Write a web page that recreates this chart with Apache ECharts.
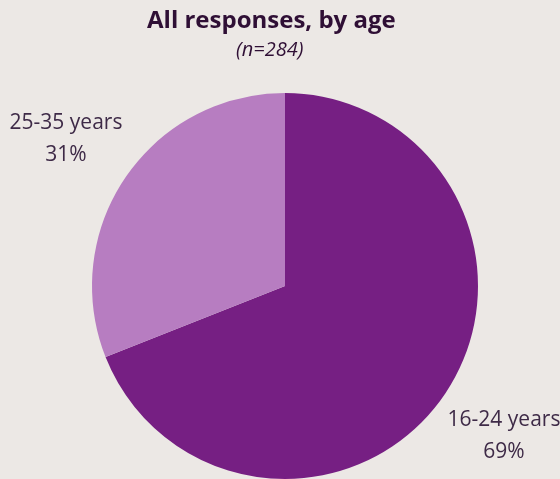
<!DOCTYPE html>
<html>
<head>
<meta charset="utf-8">
<script src="https://cdn.jsdelivr.net/npm/echarts@6/dist/echarts.min.js"></script>
<style>
  html, body { margin: 0; padding: 0; background: #ece8e5; }
  #chart { width: 560px; height: 479px; }
</style>
</head>
<body>
<div id="chart"></div>
<script>
// Age groups and their share of responses (percent)
const categories = ['16-24 years', '25-35 years'];
const shares = [69, 31];
const sliceColors = ['#761f83', '#b77dc1'];

const chart = echarts.init(document.getElementById('chart'), null, { renderer: 'canvas' });

const labelSpots = [
  { x: 504, y: 436 },
  { x: 66, y: 139 }
];

chart.setOption({
  backgroundColor: '#ece8e5',
  animation: false,
  title: [{
    text: 'All responses, by age',
    left: 147,
    top: 9,
    padding: 0,
    textStyle: {
      fontFamily: 'Open Sans',
      fontWeight: 'bold',
      fontSize: 24,
      color: '#2f0f35'
    }
  }, {
    text: '(n=284)',
    left: 236,
    top: 40,
    padding: 0,
    textStyle: {
      fontFamily: 'Open Sans',
      fontStyle: 'italic',
      fontWeight: 'normal',
      fontSize: 20,
      color: '#2f0f35'
    }
  }],
  series: [{
    type: 'pie',
    center: [285, 286],
    radius: 193,
    startAngle: 90,
    clockwise: true,
    silent: true,
    data: categories.map((name, i) => ({
      name,
      value: shares[i],
      itemStyle: { color: sliceColors[i] }
    })),
    label: {
      show: true,
      formatter: '{b}\n{c}%',
      fontFamily: 'Open Sans',
      fontSize: 21,
      lineHeight: 32,
      color: '#3e2a47',
      align: 'center',
      overflow: 'none',
      width: 200
    },
    labelLine: { show: false },
    labelLayout: function (params) {
      const spot = labelSpots[params.dataIndex];
      return { x: spot.x, y: spot.y, align: 'center', verticalAlign: 'middle' };
    }
  }]
});
</script>
</body>
</html>
